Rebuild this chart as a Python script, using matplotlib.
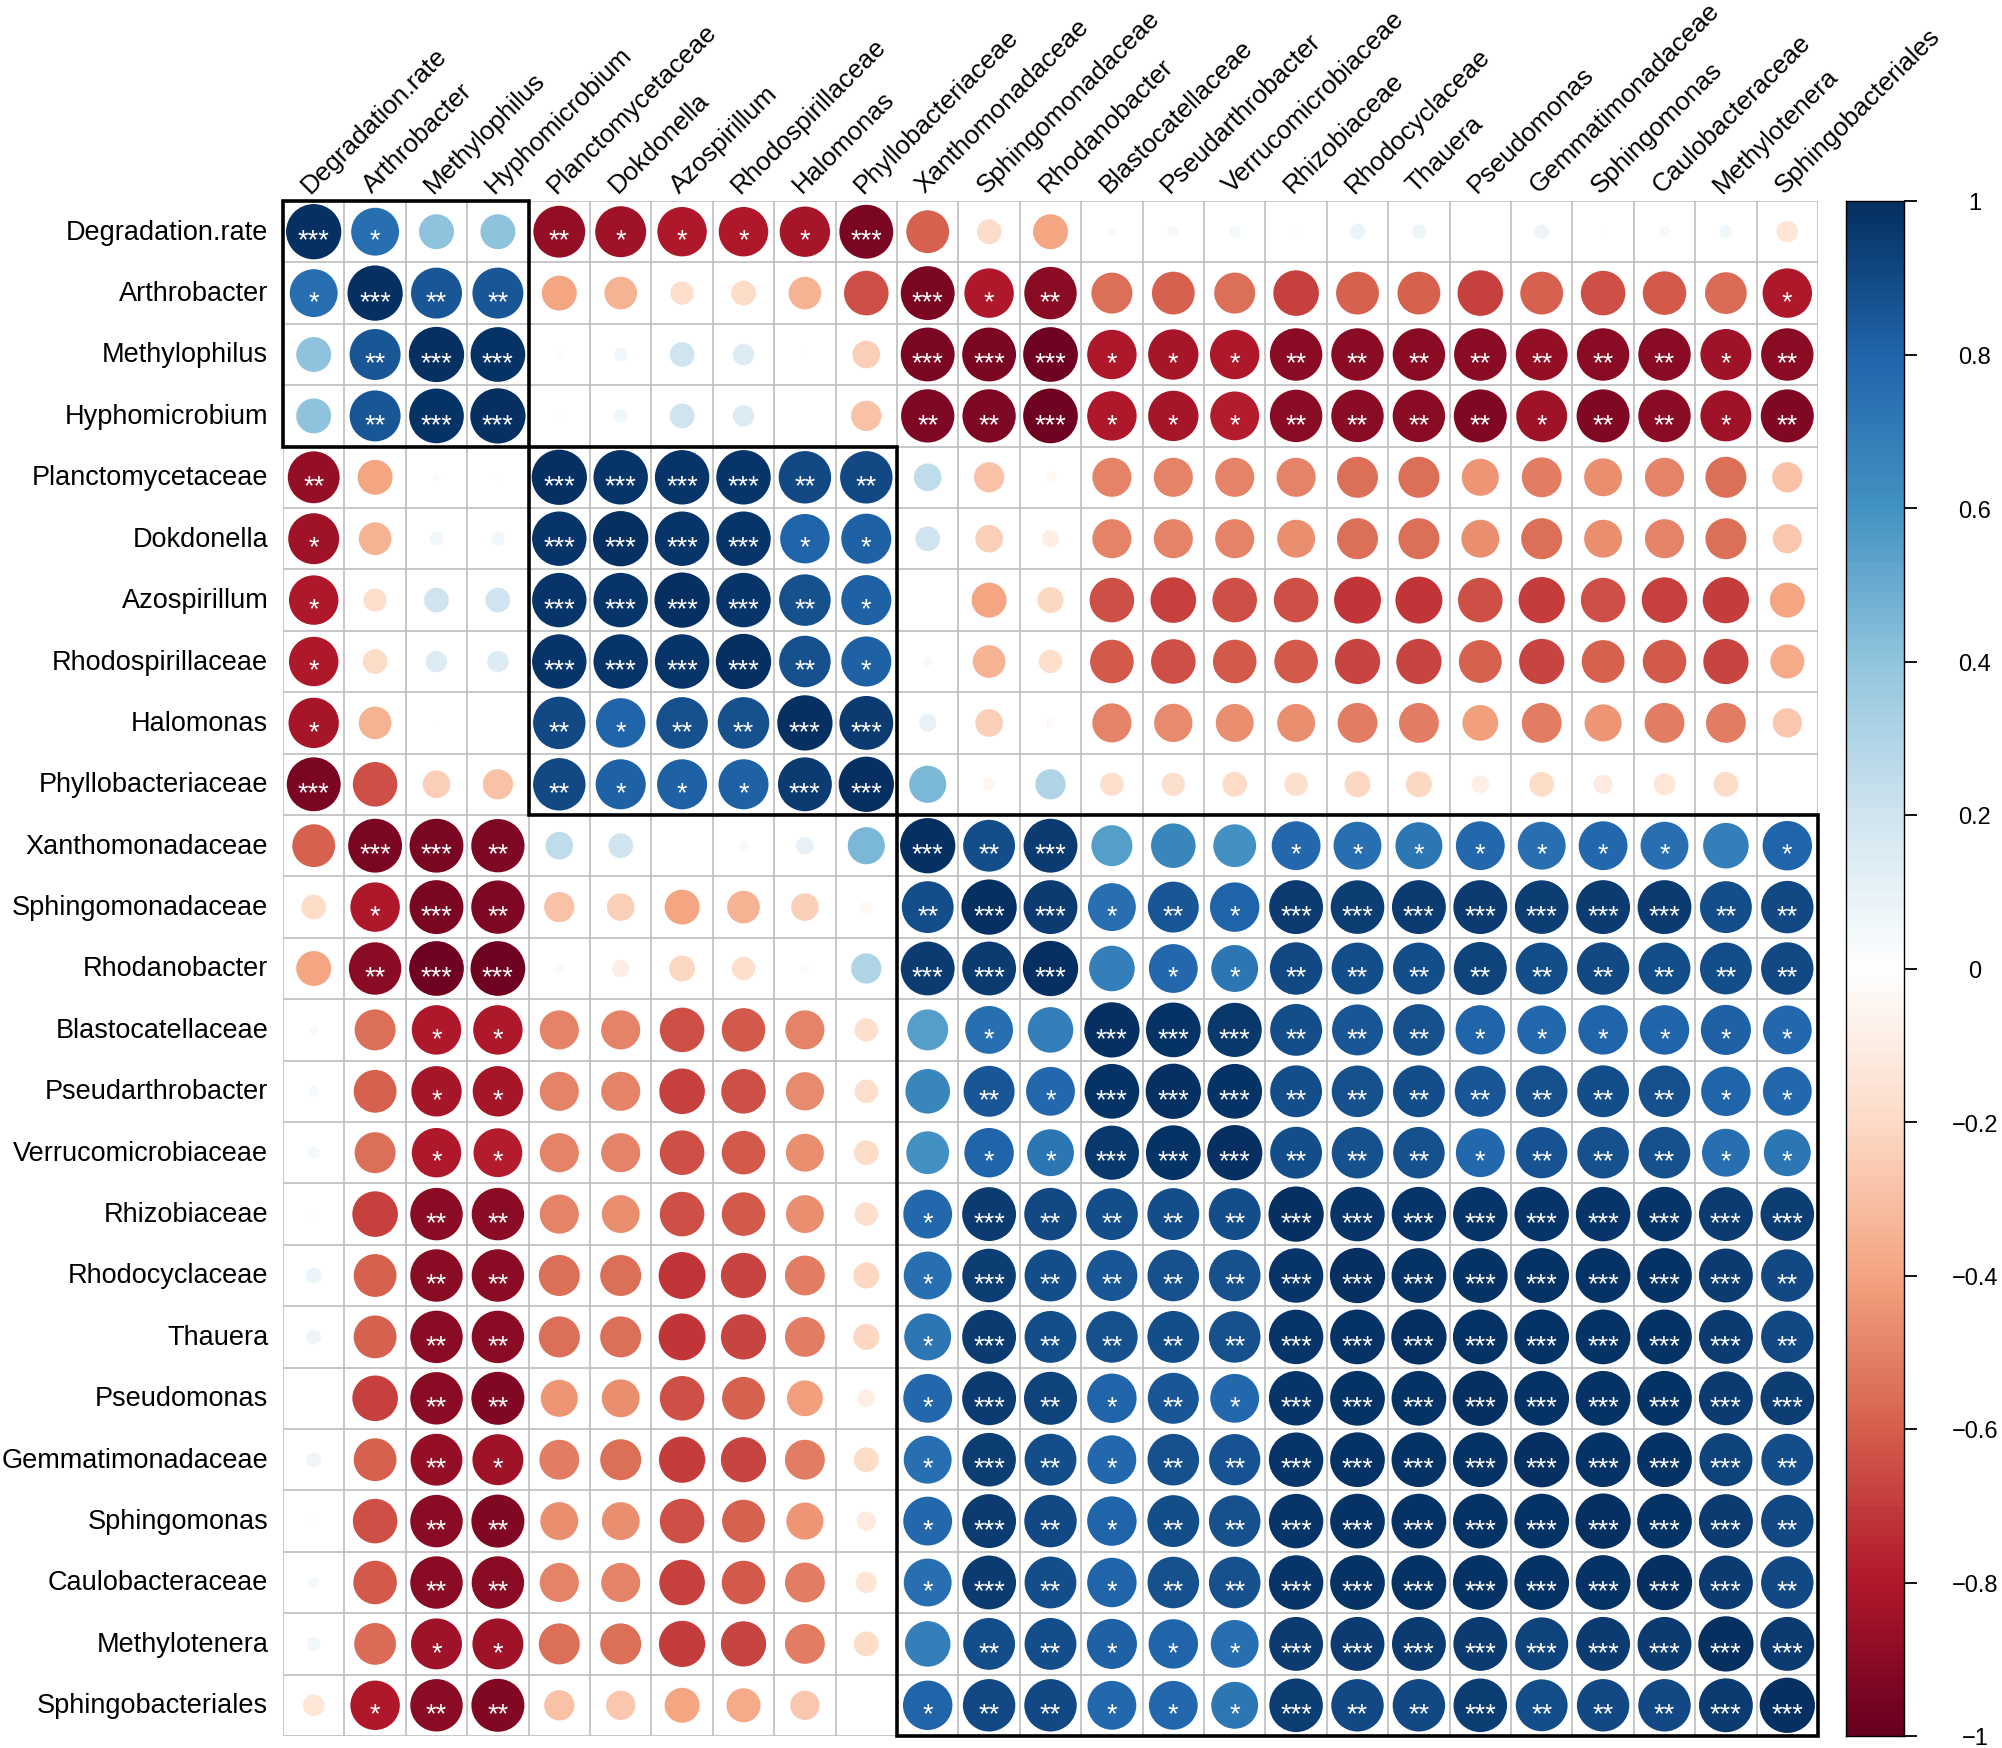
import numpy as np
import matplotlib
matplotlib.use("Agg")
import matplotlib.pyplot as plt
from matplotlib.colors import LinearSegmentedColormap
from matplotlib.patches import Circle, Rectangle

plt.rcParams['font.family'] = ['Liberation Sans', 'DejaVu Sans']

labels = ["Degradation.rate", "Arthrobacter", "Methylophilus", "Hyphomicrobium",
          "Planctomycetaceae", "Dokdonella", "Azospirillum", "Rhodospirillaceae",
          "Halomonas", "Phyllobacteriaceae", "Xanthomonadaceae", "Sphingomonadaceae",
          "Rhodanobacter", "Blastocatellaceae", "Pseudarthrobacter", "Verrucomicrobiaceae",
          "Rhizobiaceae", "Rhodocyclaceae", "Thauera", "Pseudomonas", "Gemmatimonadaceae",
          "Sphingomonas", "Caulobacteraceae", "Methylotenera", "Sphingobacteriales"]

# upper triangle of the correlation matrix, row i holds columns i+1 .. 24
upper = [
    [0.75, 0.40, 0.40, -0.88, -0.85, -0.80, -0.80, -0.83, -0.95, -0.60, -0.20, -0.40,
     0.03, 0.04, 0.05, 0.01, 0.08, 0.07, 0.00, 0.07, 0.01, 0.04, 0.06, -0.15],
    [0.85, 0.85, -0.40, -0.35, -0.18, -0.20, -0.35, -0.65, -0.95, -0.80, -0.90, -0.55,
     -0.60, -0.55, -0.68, -0.60, -0.60, -0.68, -0.60, -0.65, -0.62, -0.57, -0.80],
    [0.98, 0.02, 0.06, 0.20, 0.15, 0.01, -0.25, -0.95, -0.95, -0.98, -0.80, -0.83,
     -0.80, -0.90, -0.90, -0.90, -0.90, -0.88, -0.90, -0.90, -0.85, -0.90],
    [0.01, 0.06, 0.20, 0.15, 0.00, -0.30, -0.93, -0.93, -0.98, -0.80, -0.83, -0.78,
     -0.90, -0.90, -0.90, -0.92, -0.85, -0.92, -0.90, -0.85, -0.92],
    [0.97, 0.97, 0.97, 0.90, 0.90, 0.25, -0.30, -0.04, -0.50, -0.50, -0.50, -0.50,
     -0.55, -0.55, -0.45, -0.52, -0.47, -0.50, -0.55, -0.30],
    [0.97, 0.97, 0.80, 0.82, 0.20, -0.25, -0.10, -0.50, -0.50, -0.50, -0.47, -0.55,
     -0.55, -0.47, -0.55, -0.47, -0.50, -0.55, -0.28],
    [0.97, 0.87, 0.82, 0.00, -0.40, -0.22, -0.65, -0.68, -0.65, -0.65, -0.72, -0.72,
     -0.65, -0.70, -0.65, -0.68, -0.70, -0.40],
    [0.87, 0.82, 0.03, -0.35, -0.18, -0.62, -0.65, -0.62, -0.62, -0.67, -0.67, -0.60,
     -0.67, -0.60, -0.62, -0.67, -0.38],
    [0.95, 0.10, -0.25, -0.03, -0.50, -0.48, -0.47, -0.47, -0.52, -0.52, -0.42, -0.52,
     -0.45, -0.52, -0.52, -0.28],
    [0.45, -0.05, 0.30, -0.18, -0.18, -0.20, -0.18, -0.22, -0.22, -0.10, -0.20, -0.12,
     -0.15, -0.20, 0.00],
    [0.88, 0.95, 0.55, 0.65, 0.60, 0.78, 0.75, 0.72, 0.78, 0.75, 0.78, 0.75, 0.68, 0.80],
    [0.95, 0.75, 0.85, 0.80, 0.95, 0.94, 0.95, 0.95, 0.94, 0.95, 0.95, 0.88, 0.90],
    [0.68, 0.78, 0.72, 0.90, 0.88, 0.88, 0.92, 0.88, 0.90, 0.88, 0.88, 0.90],
    [0.98, 0.96, 0.88, 0.85, 0.87, 0.80, 0.78, 0.80, 0.80, 0.82, 0.78],
    [0.98, 0.88, 0.87, 0.88, 0.85, 0.87, 0.88, 0.87, 0.80, 0.78],
    [0.88, 0.87, 0.87, 0.78, 0.86, 0.87, 0.87, 0.75, 0.72],
    [0.97, 0.97, 0.97, 0.97, 0.97, 0.97, 0.95, 0.94],
    [0.98, 0.98, 0.98, 0.98, 0.98, 0.95, 0.90],
    [0.98, 0.98, 0.98, 0.98, 0.95, 0.90],
    [0.98, 0.98, 0.98, 0.95, 0.94],
    [0.98, 0.98, 0.92, 0.88],
    [0.98, 0.95, 0.90],
    [0.95, 0.90],
    [0.95],
]

# number of significance stars, same layout as upper
stars_upper = [
    "100211113000000000000000",
    "22000000312000000000001",
    "3000000333111222222212",
    "000000223111222212212",
    "33322000000000000000",
    "3311000000000000000",
    "321000000000000000",
    "21000000000000000",
    "3000000000000000",
    "000000000000000",
    "23000111111101",
    "3121333333322",
    "011222222222",
    "33222111111",
    "3222222211",
    "222122211",
    "33333333",
    "3333332",
    "333332",
    "33333",
    "3332",
    "332",
    "32",
    "3",
]

clusters = [(0, 4), (4, 10), (10, 25)]

n = len(labels)
corr = np.eye(n)
stars = np.full((n, n), 3, dtype=int)
for i in range(n - 1):
    for k, j in enumerate(range(i + 1, n)):
        corr[i, j] = corr[j, i] = upper[i][k]
        stars[i, j] = stars[j, i] = int(stars_upper[i][k])

cols = ["#67001F", "#B2182B", "#D6604D", "#F4A582", "#FDDBC7", "#FFFFFF",
        "#D1E5F0", "#92C5DE", "#4393C3", "#2166AC", "#053061"]
cmap = LinearSegmentedColormap.from_list("rdbu", cols, N=200)

W, H = 2002, 1749
fig = plt.figure(figsize=(W / 100, H / 100), dpi=100)
gx0, gx1, gy0, gy1 = 283, 1818, 202, 1737
ax = fig.add_axes([gx0 / W, 1 - gy1 / H, (gx1 - gx0) / W, (gy1 - gy0) / H])
ax.set_xlim(0, n)
ax.set_ylim(n, 0)
ax.axis('off')

for k in range(n + 1):
    ax.plot([k, k], [0, n], color='#BEBEBE', lw=1.2, zorder=1, solid_capstyle='butt')
    ax.plot([0, n], [k, k], color='#BEBEBE', lw=1.2, zorder=1, solid_capstyle='butt')

for i in range(n):
    for j in range(n):
        r = corr[i, j]
        c = cmap((r + 1) / 2)
        ax.add_patch(Circle((j + 0.5, i + 0.5), 0.45 * np.sqrt(abs(r)),
                            facecolor=c, edgecolor='none', zorder=2))
        if stars[i, j] > 0:
            ax.text(j + 0.5, i + 0.645, "*" * stars[i, j], color='white',
                    fontsize=19.5, ha='center', va='center', zorder=3)

for s, e in clusters:
    ax.add_patch(Rectangle((s, s), e - s, e - s, fill=False, ec='black',
                           lw=2.6, zorder=4, clip_on=False))

for i, lab in enumerate(labels):
    ax.text(-0.24, i + 0.5, lab, ha='right', va='center', fontsize=19.5)
    ax.text(i + 0.45, -0.13, lab, ha='left', va='baseline', rotation=45,
            rotation_mode='anchor', fontsize=18.8)

# colour legend
cax = fig.add_axes([1846 / W, 1 - gy1 / H, 58 / W, (gy1 - gy0) / H])
grad = np.linspace(-1, 1, 200).reshape(-1, 1)
cax.imshow(grad, cmap=cmap, vmin=-1, vmax=1, aspect='auto', origin='lower',
           extent=[0, 1, -1, 1])
cax.set_xlim(0, 1)
cax.set_ylim(-1, 1)
cax.set_xticks([])
cax.yaxis.tick_right()
ticks = np.round(np.arange(-1, 1.01, 0.2), 1)
tick_labels = ["\u22121" if t == -1 else ("0" if t == 0 else ("1" if t == 1 else f"{t:g}".replace("-", "\u2212")))
               for t in ticks]
cax.set_yticks(ticks, tick_labels)
cax.tick_params(axis='y', length=9, width=1.3, pad=42, labelsize=17)
for t in cax.get_yticklabels():
    t.set_horizontalalignment('center')
for sp in cax.spines.values():
    sp.set_linewidth(1.0)

fig.savefig("out.png", dpi=100)
